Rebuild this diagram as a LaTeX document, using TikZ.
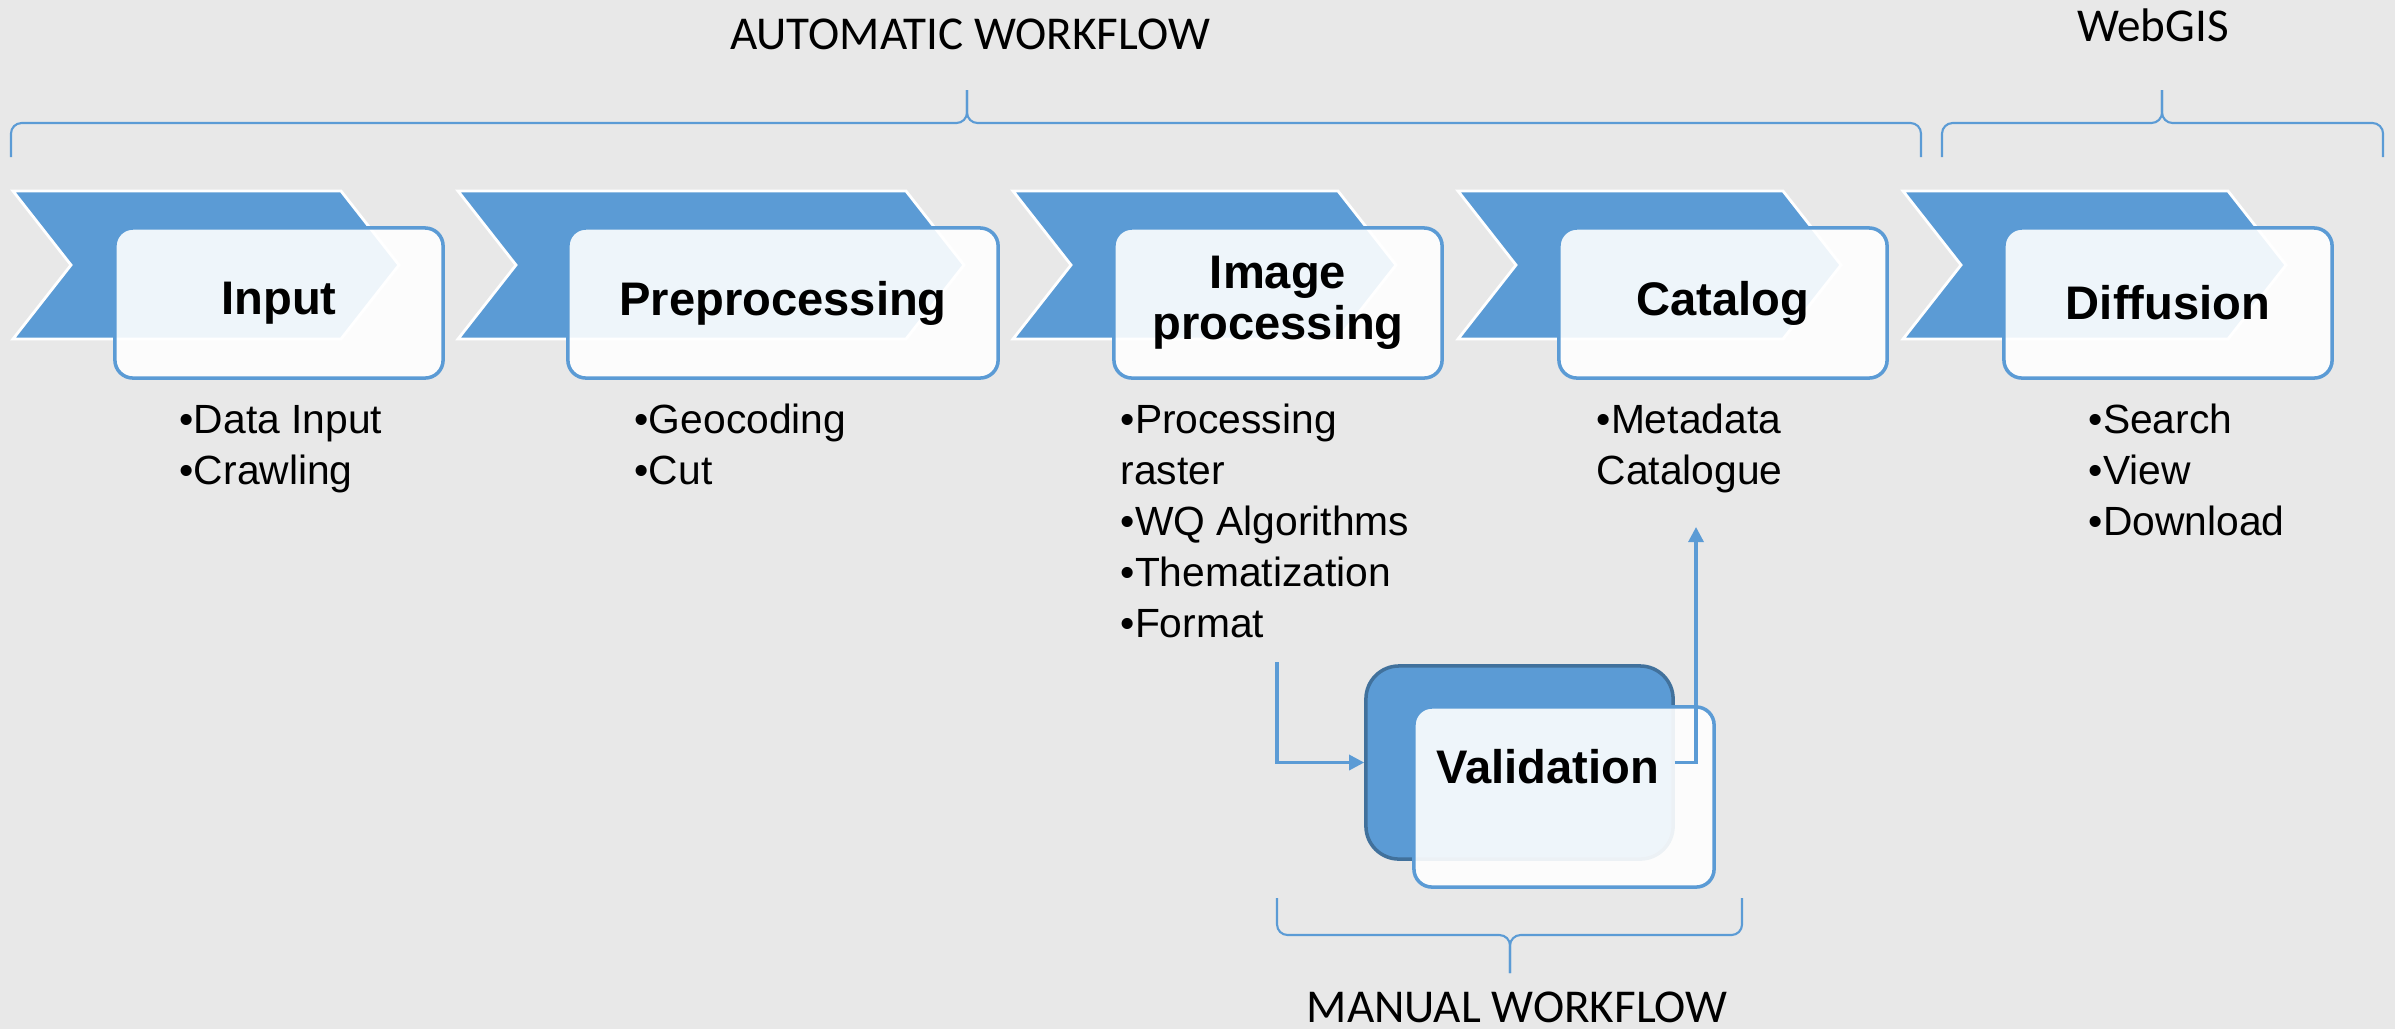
\documentclass[tikz,border=0pt]{standalone}
\usepackage{fontspec}
\setmainfont{Liberation Sans}
\newfontfamily\calibrifont{Carlito}
\usetikzlibrary{arrows.meta}
\definecolor{paper}{RGB}{232,232,232}
\definecolor{smartblue}{RGB}{91,155,213}
\definecolor{smartdark}{RGB}{65,113,156}
\tikzset{
  chevron/.style={fill=smartblue,draw=white,line width=0.8pt},
  stepbox/.style={draw=smartblue,line width=1pt,fill=white,fill opacity=0.9,text opacity=1,
    rounded corners=0.18cm,minimum width=3.28cm,minimum height=1.5cm},
  steptitle/.style={font=\fontsize{13.4}{14.5}\selectfont\bfseries,align=center},
  bullets/.style={font=\fontsize{11.6}{14.5}\selectfont,align=left,anchor=base west,inner sep=0pt},
  flowlabel/.style={font=\calibrifont\fontsize{13.4}{16}\selectfont,anchor=base,inner sep=0pt},
  flow/.style={draw=smartblue,line width=0.9pt,-{Triangle[length=4.3pt,width=4.3pt]}},
  bracket/.style={draw=smartblue,line width=0.6pt,rounded corners=3pt}
}
% curly bracket: x left, x tip, x right, y ends, y line, y tip
\newcommand{\wfbrace}[6]{%
  \draw[bracket] (#1,#4) -- (#1,#5) -- (#2,#5) -- (#2,#6);
  \draw[bracket] (#2,#6) -- (#2,#5) -- (#3,#5) -- (#3,#4);}

\begin{document}
\begin{tikzpicture}[x=0.01cm,y=-0.01cm]
\fill[paper] (0,0) rectangle (2395,1029);
%
\wfbrace{11}{967}{1921}{157}{123}{90}
\wfbrace{1942}{2162}{2383}{157}{123}{90}
\wfbrace{1277}{1510}{1742}{898}{935}{973}
\node[flowlabel] (autolbl) at (970,49) {AUTOMATIC WORKFLOW};
\node[flowlabel] (weblbl) at (2153,41) {WebGIS};
\node[flowlabel] (manlbl) at (1517,1022) {MANUAL WORKFLOW};
%
\foreach \l/\r in {13/341,458/906,1013/1338,1458/1783,1903/2228}
  \path[chevron] (\l,191) -- (\r,191) -- (\r+58,265) -- (\r,339) -- (\l,339) -- (\l+58,265) -- cycle;
%
\node[stepbox,steptitle] (input) at (279,303) {Input};
\node[stepbox,steptitle,minimum width=4.3cm] (prep) at (783,303) {Preprocessing};
\node[stepbox,steptitle] (improc) at (1278,303) {Image\\processing};
\node[stepbox,steptitle] (catalog) at (1723,303) {Catalog};
\node[stepbox,steptitle] (diffusion) at (2168,303) {Diffusion};
%
% lists are placed by the baseline of their last line (51 px a line)
\node[bullets] (inputlist) at (179,484) {•Data Input\\•Crawling};
\node[bullets] (preplist) at (634,484) {•Geocoding\\•Cut};
\node[bullets] (improclist) at (1120,637) {•Processing\\raster\\•WQ Algorithms\\•Thematization\\•Format};
\node[bullets] (cataloglist) at (1596,484) {•Metadata\\Catalogue};
\node[bullets] (diffusionlist) at (2088,535) {•Search\\•View\\•Download};
%
\node[draw=smartdark,fill=smartblue,line width=1pt,rounded corners=0.33cm,
  minimum width=3.07cm,minimum height=1.93cm] (valback) at (1519.5,762.5) {};
\node[stepbox,minimum width=3cm,minimum height=1.8cm] (valfront) at (1564,797) {};
\node[steptitle,anchor=base] (vallbl) at (1548,783) {Validation};
%
\coordinate (fmtout) at (1277,662);
\coordinate (catin) at (1696,527);
\draw[flow] (fmtout) |- (valback.west);
\draw[flow] (valback.east) -| (catin);
\end{tikzpicture}
\end{document}
